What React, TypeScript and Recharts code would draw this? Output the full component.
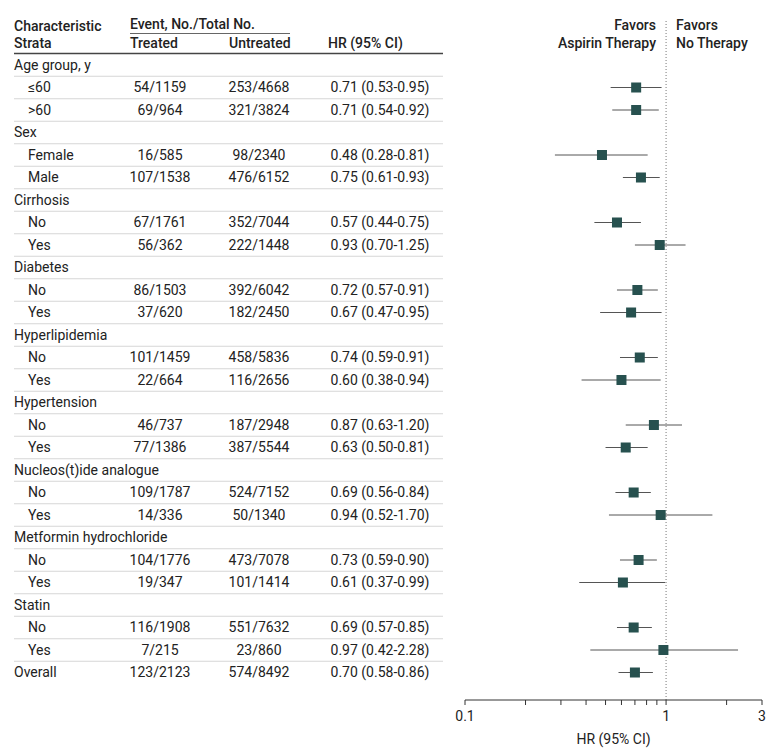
import {
  ScatterChart,
  Scatter,
  XAxis,
  YAxis,
  ErrorBar,
  ReferenceLine,
} from 'recharts';

// rows of the table, top to bottom
const strata = [
  'Age group, y', '≤60', '>60',
  'Sex', 'Female', 'Male',
  'Cirrhosis', 'No', 'Yes',
  'Diabetes', 'No', 'Yes',
  'Hyperlipidemia', 'No', 'Yes',
  'Hypertension', 'No', 'Yes',
  'Nucleos(t)ide analogue', 'No', 'Yes',
  'Metformin hydrochloride', 'No', 'Yes',
  'Statin', 'No', 'Yes',
  'Overall',
];
const treated = [
  null, '54/1159', '69/964',
  null, '16/585', '107/1538',
  null, '67/1761', '56/362',
  null, '86/1503', '37/620',
  null, '101/1459', '22/664',
  null, '46/737', '77/1386',
  null, '109/1787', '14/336',
  null, '104/1776', '19/347',
  null, '116/1908', '7/215',
  '123/2123',
];
const untreated = [
  null, '253/4668', '321/3824',
  null, '98/2340', '476/6152',
  null, '352/7044', '222/1448',
  null, '392/6042', '182/2450',
  null, '458/5836', '116/2656',
  null, '187/2948', '387/5544',
  null, '524/7152', '50/1340',
  null, '473/7078', '101/1414',
  null, '551/7632', '23/860',
  '574/8492',
];
const hr = [
  null, 0.71, 0.71,
  null, 0.48, 0.75,
  null, 0.57, 0.93,
  null, 0.72, 0.67,
  null, 0.74, 0.6,
  null, 0.87, 0.63,
  null, 0.69, 0.94,
  null, 0.73, 0.61,
  null, 0.69, 0.97,
  0.7,
];
const ciLow = [
  null, 0.53, 0.54,
  null, 0.28, 0.61,
  null, 0.44, 0.7,
  null, 0.57, 0.47,
  null, 0.59, 0.38,
  null, 0.63, 0.5,
  null, 0.56, 0.52,
  null, 0.59, 0.37,
  null, 0.57, 0.42,
  0.58,
];
const ciHigh = [
  null, 0.95, 0.92,
  null, 0.81, 0.93,
  null, 0.75, 1.25,
  null, 0.91, 0.95,
  null, 0.91, 0.94,
  null, 1.2, 0.81,
  null, 0.84, 1.7,
  null, 0.9, 0.99,
  null, 0.85, 2.28,
  0.86,
];
const xTicks = [0.1, 0.2, 0.3, 0.4, 0.5, 0.6, 0.7, 0.8, 0.9, 1, 2, 3];
const xLabels = [0.1, 1, 3];

const FONT = 'Roboto, sans-serif';
const TEXT = '#222';
const MARK = '#27514f';

const points = hr
  .map((v, i) => (v == null ? null : {
    x: v,
    y: i,
    err: [v - (ciLow[i] as number), (ciHigh[i] as number) - v],
  }))
  .filter(Boolean);

const fmt = (v: number) => v.toFixed(2);

function RowTick(props: any) {
  const { y, payload } = props;
  const i = payload.value as number;
  const isSub = treated[i] != null && i !== strata.length - 1;
  return (
    <g fontFamily={FONT} fontSize={14} fill={TEXT}>
      <text x={isSub ? 28 : 14} y={y} dy="0.35em" fill={TEXT}>{strata[i]}</text>
      {treated[i] && (
        <text x={160} y={y} dy="0.35em" textAnchor="middle" fill={TEXT}>{treated[i]}</text>
      )}
      {untreated[i] && (
        <text x={259} y={y} dy="0.35em" textAnchor="middle" fill={TEXT}>{untreated[i]}</text>
      )}
      {hr[i] != null && (
        <text x={380} y={y} dy="0.35em" textAnchor="middle" fill={TEXT}>
          {`${fmt(hr[i] as number)} (${fmt(ciLow[i] as number)}-${fmt(ciHigh[i] as number)})`}
        </text>
      )}
      {i < strata.length - 1 && (
        <line x1={14} x2={443} y1={y + 11.25} y2={y + 11.25} stroke="#d6d6d6" />
      )}
    </g>
  );
}

const Square = (props: any) => {
  const { cx, cy } = props;
  return <rect x={cx - 5} y={cy - 5} width={10} height={10} fill={MARK} />;
};

export default function App() {
  return (
    <div style={{ position: 'absolute', left: 0, top: 0, width: 780, height: 755, background: '#fff' }}>
      <ScatterChart width={780} height={755} margin={{ top: 20, right: 18, bottom: 0, left: 0 }}>
        <XAxis
          type="number"
          dataKey="x"
          scale="log"
          domain={[0.1, 3]}
          allowDataOverflow
          ticks={xTicks}
          interval={0}
          tickFormatter={(v: number) => (xLabels.includes(v) ? String(v) : '')}
          height={55}
          stroke="#333"
          tickSize={5}
          tickMargin={6}
          tick={{ fill: TEXT, fontSize: 14, fontFamily: FONT }}
          label={{ value: 'HR (95% CI)', position: 'insideBottom', offset: 11, fill: TEXT, fontSize: 14, fontFamily: FONT }}
        />
        <YAxis
          type="number"
          dataKey="y"
          domain={[-2, 28.222]}
          allowDataOverflow
          reversed
          ticks={strata.map((_, i) => i)}
          interval={0}
          width={465}
          axisLine={false}
          tickLine={false}
          tick={(p: any) => <RowTick {...p} />}
        />
        <ReferenceLine x={1} stroke="#777" strokeDasharray="1 2" ifOverflow="extendDomain" />
        <Scatter data={points as any[]} shape={() => <g />} isAnimationActive={false}>
          <ErrorBar dataKey="err" direction="x" width={0} stroke="#555" strokeWidth={1} isAnimationActive={false} />
        </Scatter>
        <Scatter data={points as any[]} shape={Square} isAnimationActive={false} />
      </ScatterChart>
      <svg
        width={780}
        height={60}
        style={{ position: 'absolute', left: 0, top: 0, pointerEvents: 'none' }}
        fontFamily={FONT}
        fontSize={14}
        fontWeight={500}
      >
        <g fill={TEXT}>
          <text x={14} y={31}>Characteristic</text>
          <text x={14} y={48}>Strata</text>
          <text x={130} y={29}>Event, No./Total No.</text>
          <text x={130} y={48}>Treated</text>
          <text x={229} y={48}>Untreated</text>
          <text x={328} y={48}>HR (95% CI)</text>
          <text x={656} y={30} textAnchor="end">Favors</text>
          <text x={656} y={48} textAnchor="end">Aspirin Therapy</text>
          <text x={676} y={30}>Favors</text>
          <text x={676} y={48}>No Therapy</text>
        </g>
        <line x1={130} x2={290} y1={33.5} y2={33.5} stroke="#666" />
        <line x1={14} x2={443} y1={53.5} y2={53.5} stroke="#444" strokeWidth={1.5} />
      </svg>
    </div>
  );
}
